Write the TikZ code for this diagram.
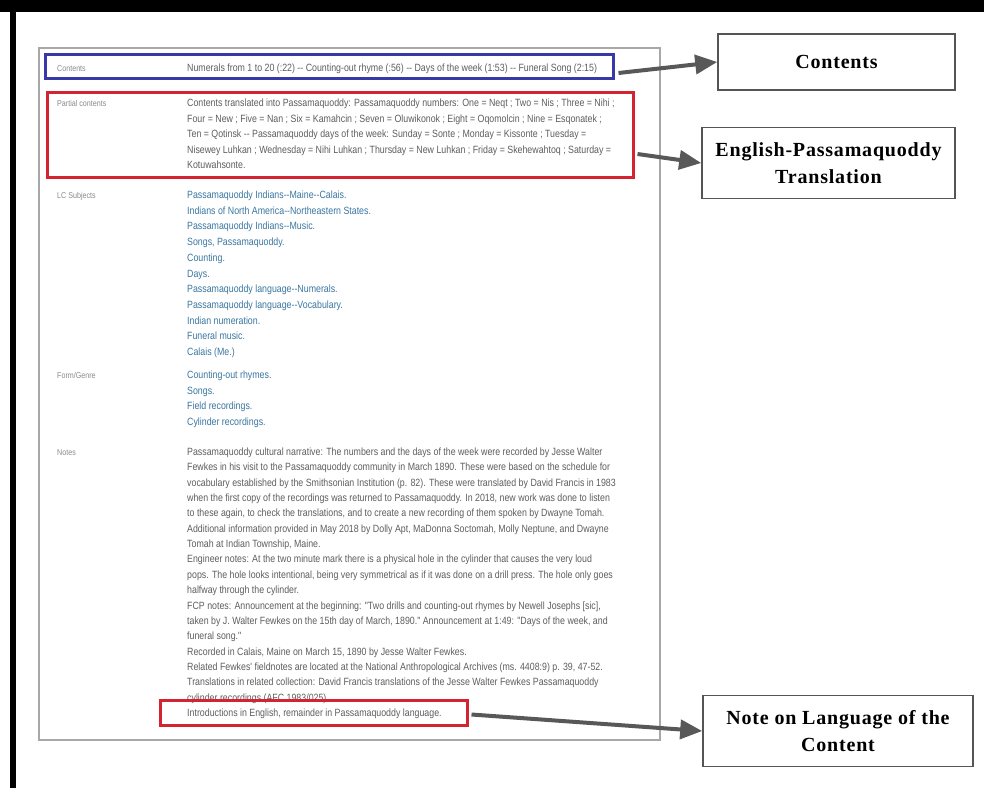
\documentclass[tikz,border=0pt]{standalone}
\usepackage{fontspec}
\setmainfont{Liberation Sans}
\newfontfamily\pagefont[FakeStretch=0.84]{Liberation Sans}
\newfontfamily\calloutfont[LetterSpace=4]{Liberation Serif}
\usetikzlibrary{arrows.meta}
\definecolor{lblgray}{HTML}{8A8A8A}
\definecolor{bodygray}{HTML}{5E5E5E}
\definecolor{linkblue}{HTML}{3A76A0}
\definecolor{panelgray}{HTML}{A8A8A8}
\definecolor{hlblue}{HTML}{3838A8}
\definecolor{hlred}{HTML}{D42331}
\definecolor{boxgray}{HTML}{555555}
\definecolor{arrowgray}{HTML}{585858}
\newcommand\dd{-{}-}
\begin{document}
\begin{tikzpicture}[x=1pt,y=-1pt,
  lbl/.style={anchor=base west,inner sep=0pt,text=lblgray,font=\pagefont\fontsize{8.5}{10}\selectfont},
  val/.style={anchor=base west,inner sep=0pt,text=bodygray,font=\pagefont\fontsize{10.5}{12}\selectfont},
  lnk/.style={val,text=linkblue},
  hl/.style={draw=#1,line width=3pt,inner sep=0pt},
  callout/.style={draw=boxgray,line width=1.6pt,fill=white,align=center,inner sep=0pt,text=black,font=\calloutfont\bfseries\fontsize{20}{26.5}\selectfont},
  pointer/.style={draw=arrowgray,line width=4pt,-{Triangle[length=22pt,width=19pt]}}]

\useasboundingbox (0,0) rectangle (984,788);
\fill[white] (0,0) rectangle (984,788);
\fill[black] (0,0) rectangle (984,11.5);
\fill[black] (10,0) rectangle (16,788);

% screenshot panel
\draw[panelgray,line width=1.5pt] (39,48) rectangle (660,740);

% Contents row
\node[lbl] (lcont) at (57,71) {Contents};
\node[val] (vcont) at (187,71) {Numerals from 1 to 20 (:22) \dd{} Counting-out rhyme (:56) \dd{} Days of the week (1:53) \dd{} Funeral Song (2:15)};

% Partial contents
\node[lbl] (lpart) at (57,106.5) {Partial contents};
\node[val] (p1) at (187,106.5) {Contents translated into Passamaquoddy: Passamaquoddy numbers: One = Neqt ; Two = Nis ; Three = Nihi ;};
\node[val] (p2) at (187,122) {Four = New ; Five = Nan ; Six = Kamahcin ; Seven = Oluwikonok ; Eight = Oqomolcin ; Nine = Esqonatek ;};
\node[val] (p3) at (187,137.5) {Ten = Qotinsk \dd{} Passamaquoddy days of the week: Sunday = Sonte ; Monday = Kissonte ; Tuesday =};
\node[val] (p4) at (187,153) {Nisewey Luhkan ; Wednesday = Nihi Luhkan ; Thursday = New Luhkan ; Friday = Skehewahtoq ; Saturday =};
\node[val] (p5) at (187,168.5) {Kotuwahsonte.};

% LC Subjects
\node[lbl] (lsubj) at (57,198.5) {LC Subjects};
\node[lnk] (s1) at (187,198.5) {Passamaquoddy Indians\dd{}Maine\dd{}Calais.};
\node[lnk] (s2) at (187,214.2) {Indians of North America\dd{}Northeastern States.};
\node[lnk] (s3) at (187,229.9) {Passamaquoddy Indians\dd{}Music.};
\node[lnk] (s4) at (187,245.6) {Songs, Passamaquoddy.};
\node[lnk] (s5) at (187,261.3) {Counting.};
\node[lnk] (s6) at (187,277) {Days.};
\node[lnk] (s7) at (187,292.7) {Passamaquoddy language\dd{}Numerals.};
\node[lnk] (s8) at (187,308.4) {Passamaquoddy language\dd{}Vocabulary.};
\node[lnk] (s9) at (187,324.1) {Indian numeration.};
\node[lnk] (s10) at (187,339.8) {Funeral music.};
\node[lnk] (s11) at (187,355.5) {Calais (Me.)};

% Form/Genre
\node[lbl] (lform) at (57,378.5) {Form/Genre};
\node[lnk] (f1) at (187,378.5) {Counting-out rhymes.};
\node[lnk] (f2) at (187,394.2) {Songs.};
\node[lnk] (f3) at (187,409.9) {Field recordings.};
\node[lnk] (f4) at (187,425.6) {Cylinder recordings.};

% Notes
\node[lbl] (lnotes) at (57,455.5) {Notes};
\node[val] (n1) at (187,455.5) {Passamaquoddy cultural narrative: The numbers and the days of the week were recorded by Jesse Walter};
\node[val] (n2) at (187,470.85) {Fewkes in his visit to the Passamaquoddy community in March 1890. These were based on the schedule for};
\node[val] (n3) at (187,486.2) {vocabulary established by the Smithsonian Institution (p. 82). These were translated by David Francis in 1983};
\node[val] (n4) at (187,501.55) {when the first copy of the recordings was returned to Passamaquoddy. In 2018, new work was done to listen};
\node[val] (n5) at (187,516.9) {to these again, to check the translations, and to create a new recording of them spoken by Dwayne Tomah.};
\node[val] (n6) at (187,532.25) {Additional information provided in May 2018 by Dolly Apt, MaDonna Soctomah, Molly Neptune, and Dwayne};
\node[val] (n7) at (187,547.6) {Tomah at Indian Township, Maine.};
\node[val] (n8) at (187,562.95) {Engineer notes: At the two minute mark there is a physical hole in the cylinder that causes the very loud};
\node[val] (n9) at (187,578.3) {pops. The hole looks intentional, being very symmetrical as if it was done on a drill press. The hole only goes};
\node[val] (n10) at (187,593.65) {halfway through the cylinder.};
\node[val] (n11) at (187,609) {FCP notes: Announcement at the beginning: "Two drills and counting-out rhymes by Newell Josephs [sic],};
\node[val] (n12) at (187,624.35) {taken by J. Walter Fewkes on the 15th day of March, 1890." Announcement at 1:49: "Days of the week, and};
\node[val] (n13) at (187,639.7) {funeral song."};
\node[val] (n14) at (187,655.05) {Recorded in Calais, Maine on March 15, 1890 by Jesse Walter Fewkes.};
\node[val] (n15) at (187,670.4) {Related Fewkes' fieldnotes are located at the National Anthropological Archives (ms. 4408:9) p. 39, 47-52.};
\node[val] (n16) at (187,685.75) {Translations in related collection: David Francis translations of the Jesse Walter Fewkes Passamaquoddy};
\node[val] (n17) at (187,701.1) {cylinder recordings (AFC 1983/025).};
\node[val] (n18) at (187,716.45) {Introductions in English, remainder in Passamaquoddy language.};

% highlight boxes
\node[hl=hlblue,minimum width=568pt,minimum height=24pt] (hcont) at (329,66) {};
\node[hl=hlred,minimum width=586pt,minimum height=85pt] (hpart) at (340,135) {};
\node[hl=hlred,minimum width=307pt,minimum height=25pt] (hlang) at (313.5,712.5) {};

% callout boxes
\node[callout,minimum width=237pt,minimum height=56pt] (cbox) at (836.5,62) {Contents};
\node[callout,minimum width=253pt,minimum height=71pt] (ebox) at (828.5,163) {English-Passamaquoddy\\Translation};
\node[callout,minimum width=270pt,minimum height=71pt] (nbox) at (838,731) {Note on Language of the\\Content};

% connectors
\draw[pointer] ([xshift=4pt,yshift=-7pt]hcont.east) -- (cbox.west);
\draw[pointer] ([xshift=3pt,yshift=-19pt]hpart.east) -- (ebox.west);
\draw[pointer] ([xshift=3pt,yshift=-2pt]hlang.east) -- (nbox.west);
\end{tikzpicture}
\end{document}
